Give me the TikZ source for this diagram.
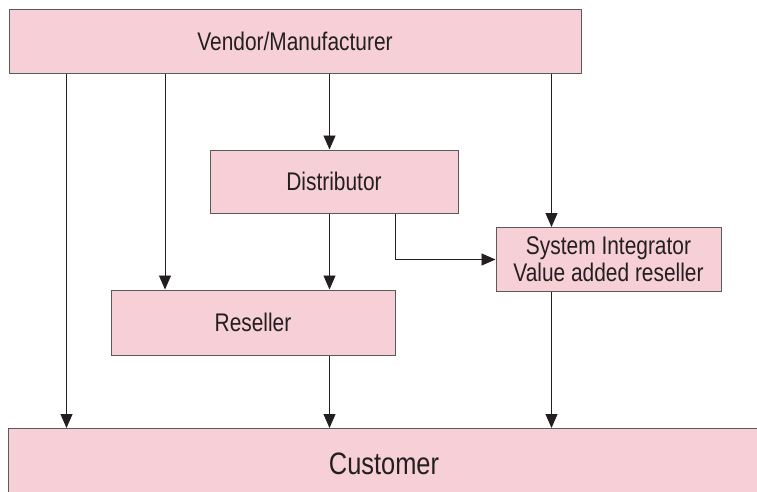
\documentclass[tikz,border=0pt]{standalone}
\usepackage{fontspec}
\setmainfont[FakeStretch=0.82]{Liberation Sans}
\usetikzlibrary{arrows.meta}
\definecolor{boxpink}{HTML}{F7D0D7}
\definecolor{boxline}{HTML}{5A5A5A}
\definecolor{inkdark}{HTML}{231F20}
\tikzset{
	chanbox/.style={draw=boxline, fill=boxpink, line width=1pt, inner sep=0pt, align=center,
		text=inkdark, font=\fontsize{25.5}{27}\selectfont},
	flow/.style={->, draw=inkdark, line width=0.9pt}
}
\begin{document}
\begin{tikzpicture}[x=1pt, y=-1pt, >={Triangle[width=12pt,length=14pt]}, line join=miter]
		\useasboundingbox (0,0) rectangle (757,491);
		\node[chanbox, minimum width=572pt, minimum height=64pt] (vendor) at (295,41) {Vendor/Manufacturer};
		\node[chanbox, minimum width=248pt, minimum height=63pt] (dist) at (334,181.5) {Distributor};
		\node[chanbox, minimum width=225pt, minimum height=64pt] (integ) at (608.5,259.5) {System Integrator\\Value added reseller};
		\node[chanbox, minimum width=284pt, minimum height=65pt] (resel) at (253,322.5) {Reseller};
		\begin{scope}
			\clip (0,0) rectangle (757,491);
			\node[chanbox, minimum width=840pt, minimum height=120pt, anchor=north west] (cust) at (8,428) {};
		\end{scope}
		\node[text=inkdark, font=\fontsize{31}{33}\selectfont] (custlbl) at (384,464) {Customer};
		% straight down from the vendor
		\draw[flow] ([xshift=58pt]vendor.south west) coordinate (v1) -- (v1 |- cust.north);
		\draw[flow] ([xshift=156.5pt]vendor.south west) coordinate (v2) -- (v2 |- resel.north);
		\draw[flow] ([xshift=321pt]vendor.south west) coordinate (v3) -- (v3 |- dist.north);
		\draw[flow] ([xshift=543pt]vendor.south west) coordinate (v4) -- (v4 |- integ.north);
		% distributor
		\draw[flow] (v3 |- dist.south) -- (v3 |- resel.north);
		\draw[flow] ([xshift=186pt]dist.south west) coordinate (d1) -- (d1 |- integ.west) -- (integ.west);
		% to the customer
		\draw[flow] (v3 |- resel.south) -- (v3 |- cust.north);
		\draw[flow] (v4 |- integ.south) -- (v4 |- cust.north);
	\end{tikzpicture}
\end{document}
